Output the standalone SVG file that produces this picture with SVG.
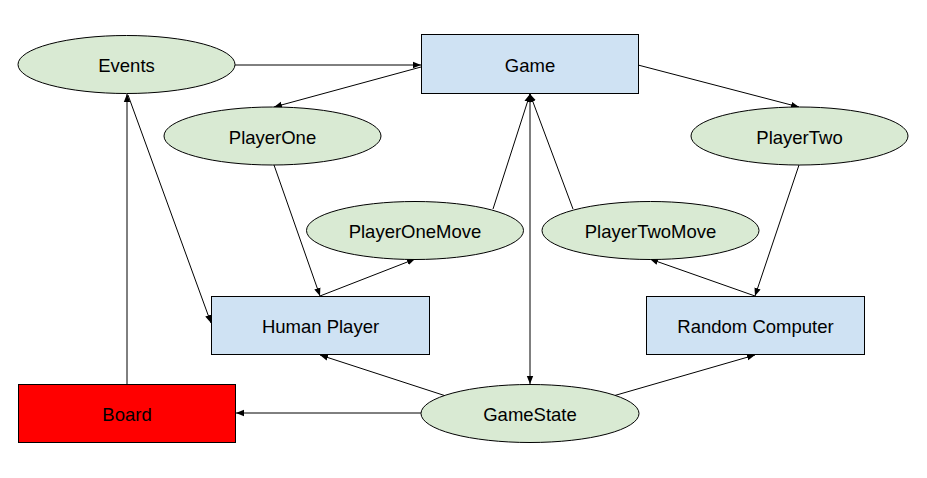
<svg xmlns="http://www.w3.org/2000/svg" width="927" height="478" viewBox="0 0 927 478">
<style>
.el{fill:#d9ead3;stroke:#000;stroke-width:1}
.bx{fill:#cfe2f3;stroke:#000;stroke-width:1}
.red{fill:#ff0000;stroke:#000;stroke-width:1}
.t{font-family:"Liberation Sans",Arial,sans-serif;font-size:18.5px;fill:#000;text-anchor:middle;dominant-baseline:central}
.c{stroke:#000;stroke-width:1;fill:none;marker-end:url(#ah)}
.c2{stroke:#000;stroke-width:1;fill:none;marker-end:url(#ah);marker-start:url(#ahs)}
</style>
<defs>
<marker id="ah" viewBox="0 0 10 10" refX="10" refY="5" markerWidth="8" markerHeight="8" markerUnits="userSpaceOnUse" orient="auto">
<path d="M0,1 L10,5 L0,9 z" fill="#000"/>
</marker>
<marker id="ahs" viewBox="0 0 10 10" refX="0" refY="5" markerWidth="8" markerHeight="8" markerUnits="userSpaceOnUse" orient="auto">
<path d="M10,1 L0,5 L10,9 z" fill="#000"/>
</marker>
</defs>
<rect width="927" height="478" fill="#fff"/>
<g id="connectors">
<line class="c" x1="235" y1="65" x2="421" y2="65"/>
<line class="c" x1="421" y1="67" x2="274" y2="107"/>
<line class="c" x1="638" y1="65" x2="799" y2="107"/>
<line class="c" x1="274" y1="165" x2="320" y2="296"/>
<line class="c" x1="320" y1="296" x2="415" y2="259"/>
<line class="c" x1="493" y1="209" x2="530" y2="94"/>
<line class="c" x1="573" y1="209" x2="530" y2="94"/>
<line class="c2" x1="530" y1="94" x2="530" y2="384"/>
<line class="c" x1="755" y1="296" x2="650" y2="259"/>
<line class="c" x1="799" y1="165" x2="755" y2="296"/>
<line class="c" x1="127" y1="384" x2="127" y2="94"/>
<line class="c" x1="128" y1="95" x2="211" y2="323"/>
<line class="c" x1="446" y1="396" x2="320" y2="355"/>
<line class="c" x1="613" y1="396" x2="755" y2="355"/>
<line class="c" x1="421" y1="413" x2="236" y2="413"/>
</g>
<g id="events"><ellipse class="el" cx="126.5" cy="64.5" rx="108.5" ry="29"/><text class="t" x="126.5" y="65">Events</text></g>
<g id="game"><rect class="bx" x="421.5" y="34.5" width="217" height="59"/><text class="t" x="530" y="65">Game</text></g>
<g id="playerone"><ellipse class="el" cx="272.5" cy="136" rx="108.5" ry="29"/><text class="t" x="272.5" y="137">PlayerOne</text></g>
<g id="playertwo"><ellipse class="el" cx="799.5" cy="136" rx="108.5" ry="29"/><text class="t" x="799.5" y="137">PlayerTwo</text></g>
<g id="playeronemove"><ellipse class="el" cx="415" cy="230.5" rx="108.5" ry="29"/><text class="t" x="415" y="231">PlayerOneMove</text></g>
<g id="playertwomove"><ellipse class="el" cx="650.5" cy="230.5" rx="108.5" ry="29"/><text class="t" x="650.5" y="231">PlayerTwoMove</text></g>
<g id="humanplayer"><rect class="bx" x="211.5" y="296.5" width="218" height="58"/><text class="t" x="320.5" y="326">Human Player</text></g>
<g id="randomcomputer"><rect class="bx" x="646.5" y="296.5" width="218" height="58"/><text class="t" x="755.5" y="326">Random Computer</text></g>
<g id="board"><rect class="red" x="18.5" y="384.5" width="217" height="58"/><text class="t" x="127" y="414">Board</text></g>
<g id="gamestate"><ellipse class="el" cx="530" cy="413.5" rx="109" ry="29"/><text class="t" x="530" y="414">GameState</text></g>
</svg>
